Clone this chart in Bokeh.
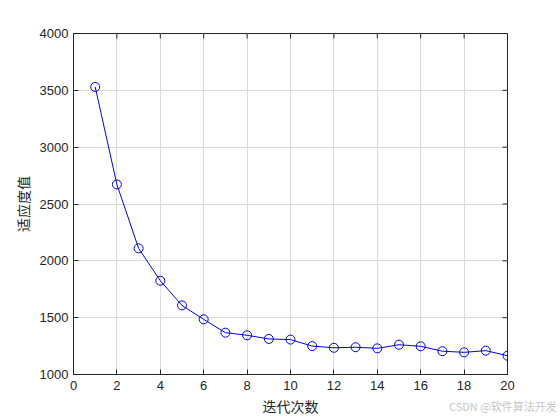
from bokeh.plotting import figure
from bokeh.models import FixedTicker, Range1d, Div
from bokeh.layouts import column
from bokeh.embed import file_html
from bokeh.resources import INLINE

iterations = list(range(1, 21))
fitness = [3530, 2672, 2110, 1825, 1608, 1485, 1368, 1345, 1313, 1307,
           1250, 1235, 1240, 1230, 1262, 1248, 1205, 1195, 1210, 1165]
x_ticks = list(range(0, 21, 2))
y_ticks = list(range(1000, 4001, 500))
x_min, x_max = 0, 20
y_min, y_max = 1000, 4000

FW, FH = 434, 341
TXT = "#262626"
p = figure(frame_width=FW, frame_height=FH, output_backend="svg",
           toolbar_location=None, x_range=Range1d(x_min, x_max), y_range=Range1d(y_min, y_max),
           min_border_left=73, min_border_top=33, min_border_right=45, min_border_bottom=40)
p.background_fill_color = "white"
p.border_fill_color = "white"
p.outline_line_color = TXT
p.outline_line_width = 1

p.xgrid.ticker = FixedTicker(ticks=x_ticks)
p.ygrid.ticker = FixedTicker(ticks=y_ticks)
p.grid.grid_line_color = "#dcdcdc"
p.grid.grid_line_width = 1

# inward ticks on top and right edges (MATLAB box style)
tick_px = 5
dy = tick_px * (y_max - y_min) / FH
dx = tick_px * (x_max - x_min) / FW
p.segment(x0=x_ticks, x1=x_ticks, y0=[y_max] * len(x_ticks), y1=[y_max - dy] * len(x_ticks),
          line_color=TXT, line_width=1)
p.segment(x0=[x_max] * len(y_ticks), x1=[x_max - dx] * len(y_ticks), y0=y_ticks, y1=y_ticks,
          line_color=TXT, line_width=1)

p.line(iterations, fitness, line_color="#0000ee", line_width=1)
p.scatter(iterations, fitness, marker="circle", size=9, fill_color=None,
          line_color="#0000ee", line_width=1)

for ax, ticks in ((p.xaxis[0], x_ticks), (p.yaxis[0], y_ticks)):
    ax.ticker = FixedTicker(ticks=ticks)
    ax.major_tick_in = 5
    ax.major_tick_out = 0
    ax.minor_tick_line_color = None
    ax.axis_line_color = TXT
    ax.major_tick_line_color = TXT
    ax.major_label_text_font = "Liberation Sans"
    ax.major_label_text_font_size = "13px"
    ax.major_label_text_color = TXT
    ax.axis_label_text_font = "Noto Sans CJK SC"
    ax.axis_label_text_font_size = "14px"
    ax.axis_label_text_font_style = "normal"
    ax.axis_label_text_color = TXT

p.xaxis.axis_label = "迭代次数"
p.yaxis.axis_label = "适应度值"
p.xaxis.major_label_standoff = 6
p.yaxis.major_label_standoff = 5
p.xaxis.axis_label_standoff = 3
p.yaxis.axis_label_standoff = 4

mark = Div(text="CSDN @软件算法开发", width=110, height=15,
           margin=(-19, 0, 0, 449),
           styles={"font-family": "Noto Sans CJK SC", "font-size": "11px",
                   "color": "#c8c8c8", "white-space": "nowrap"})

layout = column(p, mark, spacing=0)
open("out.html", "w").write(file_html(layout, INLINE))
